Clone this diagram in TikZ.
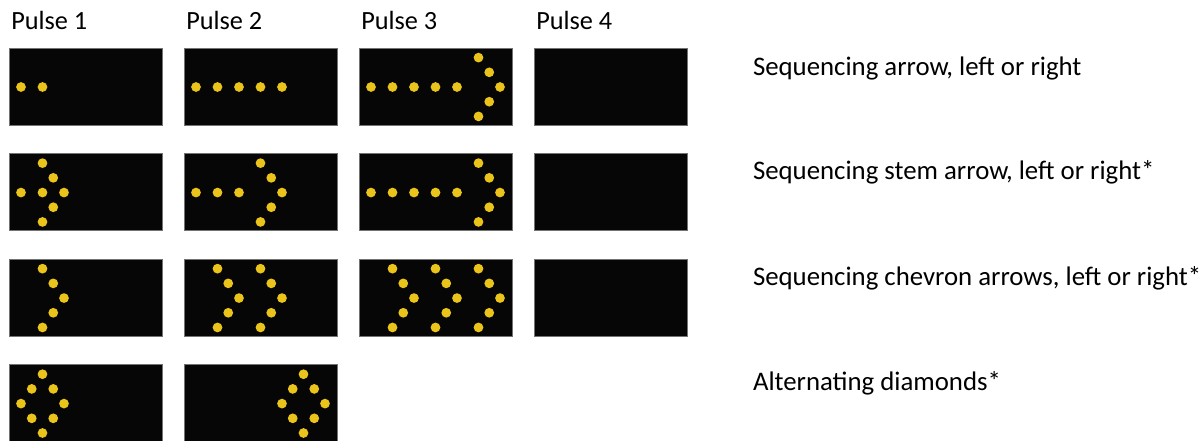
\documentclass[tikz,border=0pt]{standalone}
\usepackage{fontspec}
\setmainfont{Carlito}
\usetikzlibrary{positioning}

\definecolor{lampyellow}{RGB}{234,196,26}
\definecolor{boardblack}{RGB}{6,6,6}

% one lamp of the board, column #1 and row #2 of the lamp grid
\newcommand{\lamp}[2]{\fill[lamp] ({12+(#1)*10.75},{39+(#2)*14.7}) circle (3.65pt);}
\newcommand{\chevronlamps}[1]{%
  \lamp{#1}{-2}\lamp{#1+1}{-1}\lamp{#1+2}{0}\lamp{#1+1}{1}\lamp{#1}{2}}
\newcommand{\diamondlamps}[1]{%
  \lamp{#1}{-2}\lamp{#1-1}{-1}\lamp{#1+1}{-1}\lamp{#1-2}{0}%
  \lamp{#1+2}{0}\lamp{#1-1}{1}\lamp{#1+1}{1}\lamp{#1}{2}}

\begin{document}
\begin{tikzpicture}[x=0.75pt, y=-0.75pt, node distance=21.4pt and 16.5pt,
    board/.style={rectangle, draw=black!55, line width=0.6pt, fill=boardblack,
                  minimum width=114.75pt, minimum height=57.75pt,
                  inner sep=0pt, outer sep=0pt},
    lamp/.style={fill=lampyellow},
    pulse label/.style={font=\fontsize{19.7}{23}\selectfont, inner sep=0pt, anchor=base west},
    row label/.style={font=\fontsize{20.1}{24}\selectfont, inner sep=0pt, anchor=base west}]

  \useasboundingbox (0,0) rectangle (1204,440);

  % boards, row by row
  \node[board, anchor=north west] (p11) at (9,48) {};
  \node[board] (p12) [right=of p11] {};
  \node[board] (p13) [right=of p12] {};
  \node[board] (p14) [right=of p13] {};

  \node[board] (p21) [below=of p11] {};
  \node[board] (p22) [right=of p21] {};
  \node[board] (p23) [right=of p22] {};
  \node[board] (p24) [right=of p23] {};

  \node[board] (p31) [below=of p21] {};
  \node[board] (p32) [right=of p31] {};
  \node[board] (p33) [right=of p32] {};
  \node[board] (p34) [right=of p33] {};

  \node[board] (p41) [below=of p31] {};
  \node[board] (p42) [right=of p41] {};

  % pulse headings
  \foreach \k in {1,...,4}
    \node[pulse label] (pulse\k) at ([xshift=1.5pt, yshift=14pt]p1\k.north west) {Pulse \k};

  % row labels
  \node[row label] (arrow)   at ([xshift=49.3pt, yshift=-20.3pt]p14.north east) {Sequencing arrow, left or right};
  \node[row label] (stem)    at ([xshift=49.3pt, yshift=-19.3pt]p24.north east) {Sequencing stem arrow, left or right*};
  \node[row label] (chevron) at ([xshift=49.3pt, yshift=-19.5pt]p34.north east) {Sequencing chevron arrows, left or right*};
  \node[row label] (diamond) at ([xshift=49.3pt, yshift=-19.3pt]p34.north east |- p41.north) {Alternating diamonds*};

  % sequencing arrow
  \begin{scope}[shift={(p11.north west)}]
    \foreach \i in {0,2} {\lamp{\i}{0}}
  \end{scope}
  \begin{scope}[shift={(p12.north west)}]
    \foreach \i in {0,2,...,8} {\lamp{\i}{0}}
  \end{scope}
  \begin{scope}[shift={(p13.north west)}]
    \foreach \i in {0,2,...,8} {\lamp{\i}{0}}
    \chevronlamps{10}
  \end{scope}

  % sequencing stem arrow
  \begin{scope}[shift={(p21.north west)}]
    \lamp{0}{0}\lamp{2}{0}
    \chevronlamps{2}
  \end{scope}
  \begin{scope}[shift={(p22.north west)}]
    \foreach \i in {0,2,4} {\lamp{\i}{0}}
    \chevronlamps{6}
  \end{scope}
  \begin{scope}[shift={(p23.north west)}]
    \foreach \i in {0,2,...,8} {\lamp{\i}{0}}
    \chevronlamps{10}
  \end{scope}

  % sequencing chevrons
  \begin{scope}[shift={(p31.north west)}]
    \chevronlamps{2}
  \end{scope}
  \begin{scope}[shift={(p32.north west)}]
    \foreach \i in {2,6} {\chevronlamps{\i}}
  \end{scope}
  \begin{scope}[shift={(p33.north west)}]
    \foreach \i in {2,6,10} {\chevronlamps{\i}}
  \end{scope}

  % alternating diamonds
  \begin{scope}[shift={(p41.north west)}]
    \diamondlamps{2}
  \end{scope}
  \begin{scope}[shift={(p42.north west)}]
    \diamondlamps{10}
  \end{scope}
\end{tikzpicture}
\end{document}
